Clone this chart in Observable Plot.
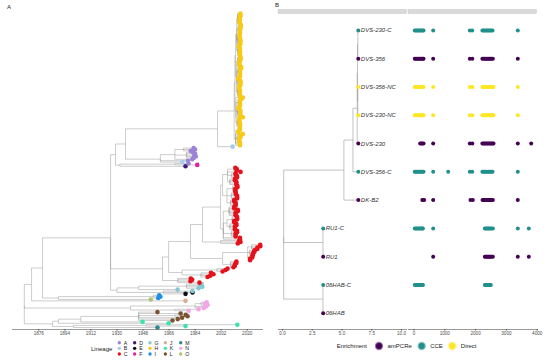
<!DOCTYPE html>
<html><head><meta charset="utf-8">
<script src="https://cdn.jsdelivr.net/npm/d3@7"></script>
<script src="https://cdn.jsdelivr.net/npm/@observablehq/plot@0.6"></script>
<style>
html,body{margin:0;padding:0;background:#fff;}
#chart{position:relative;width:550px;height:360px;overflow:hidden;font-family:"Liberation Sans",Arial,sans-serif;background:#fff;}
#chart svg{position:absolute;left:0;top:0;}
</style></head><body><div id="chart"></div>
<script>
// ---------- Panel A data ----------
const lineages = ["A","B","C","D","E","F","G","H","I","J","K","L","M","N","O"];
const lineageColors = ["#9C83D6","#A6CBEA","#E4121C","#3B1C72","#0B0B1A","#E0209C","#86C9D3","#F7CB15","#1F90E6","#D9AE8E","#3DE2B0","#7A5330","#2D8A8C","#F3A6E6","#AFC46F"];
const yearTicks = [1876,1894,1912,1930,1948,1966,1984,2002,2020];

// dated clades (tip = lineage:year, "*n" = n tips, internal node = (...):year)
const kmlClade = "((M:1958,(K:1977.4,K:2013.2):1950):1900,(K:1965.7,(K:1947.7,(L:1968.4,L:1972,L:1975,(L:1978.8,L:1977.5):1970,L:1974,L:1958):1945):1905):1889.6):1885.5";
const nClade = "((N:1979.5,N:1986.4):1970,(N:1990,N:1991.5,(N:1992.6,N:1991,N:1992):1988):1984):1939.4";
const ioClade = "(O:1953.4,(I:1958.5,I:1960,I:1959.2):1955):1889.6";
const geClade = "((E:1977.4,E:1982.2,G:1982.2):1962,(G:1971.9,(G:1986.4,G:1989,G:1987.5,G:1988.5):1978):1945):1930";
const redBasal = "(C:1987,C:1980.8,C:1982,C:1981):1972";
const redMid = "((C:1992.6,C:1994.5,C:1996.7,C:1995):1988,(C:2003,C:2005,C:2006.4):1999):1975";
const redRecent = "((C:2010.5,C:2011.5*2,C:2012.5*2):2008.5,((C:2022*2,C:2023.5*2):2021,(C:2024*2,C:2025*2):2021.5,(C:2027*2,C:2029*2):2023):2020.3):2003";
const redMain = "((C:2015*2,(C:2012*3,C:2013*2):2009,((C:2011.5*3,C:2012.5*2):2008,(C:2011*2,C:2013*3):2009.5):2006,(C:2012*3,C:2013.5*2,C:2011*2):2007.5):2003.5,(((C:2012*3,C:2011*2):2008.5,(C:2013*3,C:2012.2*2):2009,(C:2011.8*3,C:2013.2*2):2010):2006,((C:2012.5*3,C:2011.5*2):2008,(C:2013*2,C:2012*2):2009,C:2015.4,(C:2012.8*2,C:2011.8):2010.5):2006.4):2003):2001.6";
const purpleClade = "(B:1975.3,A:1979,(A:1982,(A:1983,A:1984.5,A:1983.5,A:1984,A:1982.5):1978,(A:1981,A:1984,A:1983):1976):1970):1960";
const yellowClade = "((H:2015*3,(H:2014.5*3,H:2015.5*2):2013,H:2017,(H:2014*2,H:2015*2):2013.5):2012,(((H:2015*4,H:2014.5*3):2013,H:2017,(H:2015.2*5,H:2014.2*2):2013.2,(H:2015*5,H:2016):2013.8,H:2017):2012.2,(((H:2015*5,H:2014.5*3):2013.2,(H:2015.3*4,H:2014*2):2013,(H:2015*6,H:2015.8*2):2013.6,(H:2014.6*4,H:2015.4*3):2013.4):2012.5,((H:2015*6,H:2014.4*2):2013.5,(H:2015.2*5,H:2014.8*3):2013.1,(H:2015*4,H:2015.6*3):2013.8,(H:2014.8*5,H:2015.3*3):2013.3):2012.7):2012):2011.5):2011";

const redClade = `(${redBasal},(${redMid},(${redRecent},((C:2013.5,C:2015.4,C:2014.5):2001.6,${redMain}):1989.1):1980.8):1965.7):1961.5`;
const upperClade = `((D:1977.4,(F:1985.5,A:1979.5):1970):1932,(${purpleClade},(B:2009.9,${yellowClade}):1999.5):1935.9):1929`;
const treeA = `(${kmlClade},${nClade},(J:1977.4,(${ioClade},(${geClade},${redClade},${upperClade}):1925.6):1878.6):1871):1866`;

// ---------- Panel B data ----------
const enrichLevels = ["amPCRe","CCE","Direct"];
const enrichColors = ["#440154","#21908C","#FDE725"];
const samples = ["DVS-230-C","DVS-356","DVS-356-NC","DVS-230-NC","DVS-230","DVS-356-C","DK-B2","RU1-C","RU1","06HAB-C","06HAB"];
const sampleEnrichment = ["CCE","amPCRe","Direct","Direct","amPCRe","CCE","amPCRe","CCE","amPCRe","CCE","amPCRe"];
const treeB = "((06HAB:3.42,06HAB-C:3.42):3.40,(RU1:3.42,RU1-C:3.42):3.40,(DK-B2:6.37,(DVS-356-C:6.37,(DVS-230:6.37,((DVS-230-NC:6.37,DVS-356-NC:6.37):6.33,(DVS-356:6.37,DVS-230-C:6.37):6.33):6.3):6.28):5.92):5.16):0.1";
const treeBTicks = [0,2.5,5,7.5,10];
const posTicks = [0,1000,2000,3000,4000];
const sitesDVS230C = [25,60,95,130,170,205,240,275,310,623,1812,1890,2220,2255,2290,2330,2365,2400,2440,2475,2510,2550,3370];
const sitesDVS356 = [25,60,95,135,170,205,245,280,310,623,1812,1893,2220,2260,2295,2330,2370,2405,2445,2480,2520,2560,3370];
const sitesDVS356NC = [25,60,100,135,170,210,245,280,310,623,1815,1893,2220,2255,2295,2335,2370,2410,2445,2485,2520,2555,2580,3370];
const sitesDVS230NC = [25,62,98,135,172,208,245,280,312,623,1815,1893,2220,2258,2295,2333,2372,2408,2447,2485,2520,2555,2580,3370];
const sitesDVS230 = [200,235,270,310,623,1812,1893,2220,2255,2290,2330,2370,2405,2440,2480,2515,2550,2580,3370,3805];
const sitesDVS356C = [25,60,95,130,170,205,240,275,310,623,1110,1812,1890,2220,2255,2290,2330,2365,2405,2440,2480,2515,2550,3370];
const sitesDKB2 = [270,300,330,623,1834,1910,2225,2260,2300,2335,2370,2410,2445,2480,2520,2560,3370];
const sitesRU1C = [25,60,95,130,165,200,235,265,290,623,2300,2335,2370,2405,2440,2475,2510,2560,3370,3727];
const sitesRU1 = [623,2300,2335,2370,2405,2440,2475,2515,2560,3370,3727];
const sites06HABC = [25,60,95,130,165,200,235,265,290,2300,2335,2370,2405,2440,2470,2495];
const sites06HAB = [];
const sampleSites = [sitesDVS230C,sitesDVS356,sitesDVS356NC,sitesDVS230NC,sitesDVS230,sitesDVS356C,sitesDKB2,sitesRU1C,sitesRU1,sites06HABC,sites06HAB];

// ---------- helpers ----------
function parseNewick(str) {
  const s = str.replace(/\s+/g, "");
  let i = 0;
  function token() { const j = i; while (i < s.length && !",():".includes(s[i])) i++; return s.slice(j, i); }
  function items() {
    let node;
    if (s[i] === "(") {
      i++;
      const children = [];
      for (;;) {
        children.push(...items());
        if (s[i] === ",") { i++; continue; }
        if (s[i] === ")") { i++; break; }
        throw new Error("bad newick at " + i);
      }
      node = {children, label: token()};
    } else node = {label: token()};
    let t = 0, rep = 1;
    if (s[i] === ":") { i++; const [v, r] = token().split("*"); t = +v; rep = r ? +r : 1; }
    node.t = t;
    const out = [node];
    for (let k = 1; k < rep; k++) out.push({...node});
    return out;
  }
  return items()[0];
}
function layoutTree(root) {
  let k = 0; const tips = [], edges = [];
  (function walk(n) {
    if (!n.children) { n.y = ++k; tips.push(n); }
    else { n.children.forEach(walk); n.y = d3.mean(n.children, c => c.y); }
  })(root);
  (function link(n) {
    if (!n.children) return;
    for (const c of n.children) {
      edges.push({x1: n.t, x2: n.t, y1: n.y, y2: c.y});
      edges.push({x1: n.t, x2: c.t, y1: c.y, y2: c.y});
      link(c);
    }
  })(root);
  return {tips, edges, n: k};
}

const FONT = '"Liberation Sans", Arial, sans-serif';
const chart = document.getElementById("chart");

// ---------- Panel A ----------
const A = layoutTree(parseNewick(treeA));
chart.append(Plot.plot({
  width: 550, height: 345, marginLeft: 12, marginRight: 288, marginTop: 0, marginBottom: 16,
  x: {domain: [1876, 2020], range: [38.3, 246.7]},
  y: {domain: [1, A.n], range: [327, 13], axis: null},
  color: {domain: lineages, range: lineageColors},
  style: {background: "transparent", fontFamily: FONT, fontSize: "4.6px", color: "#4d4d4d"},
  marks: [
    Plot.link(A.edges, {x1: "x1", y1: "y1", x2: "x2", y2: "y2", stroke: "#9a9a9a", strokeWidth: 0.5}),
    Plot.dot(A.tips, {x: "t", y: "y", r: 2.3, fill: "label"}),
    Plot.frame({anchor: "bottom", stroke: "#555", strokeWidth: 0.6}),
    Plot.axisX({ticks: yearTicks, tickSize: 1.5, tickPadding: 1, tickFormat: d3.format("d"), label: null})
  ]
}));

// ---------- Panel B tree ----------
const B = layoutTree(parseNewick(treeB));
const enrichOf = Object.fromEntries(samples.map((s, i) => [s, sampleEnrichment[i]]));
const rowOf = Object.fromEntries(B.tips.map(t => [t.label, t.y]));
B.tips.forEach(t => t.enrichment = enrichOf[t.label]);
chart.append(Plot.plot({
  width: 550, height: 345, marginLeft: 278, marginRight: 144, marginTop: 0, marginBottom: 16,
  x: {domain: [0, 10], range: [282, 401]},
  y: {domain: [1, B.n], range: [312.7, 30], axis: null},
  color: {domain: enrichLevels, range: enrichColors},
  style: {background: "transparent", fontFamily: FONT, fontSize: "4.6px", color: "#4d4d4d"},
  marks: [
    Plot.link(B.edges, {x1: "x1", y1: "y1", x2: "x2", y2: "y2", stroke: "#9a9a9a", strokeWidth: 0.6}),
    Plot.dot(B.tips, {x: "t", y: "y", r: 2, fill: "enrichment"}),
    Plot.text(B.tips, {x: "t", y: "y", text: "label", textAnchor: "start", dx: 2.5, fontSize: 6, fontStyle: "italic", fill: "#333"}),
    Plot.frame({anchor: "bottom", stroke: "#555", strokeWidth: 0.6}),
    Plot.axisX({ticks: treeBTicks, tickSize: 1.5, tickPadding: 1, tickFormat: d3.format(".1f"), label: null})
  ]
}));

// ---------- Panel B dot plot ----------
const siteRows = samples.flatMap((s, i) => sampleSites[i].map(p => ({sample: s, pos: p, row: rowOf[s], enrichment: sampleEnrichment[i]})));
chart.append(Plot.plot({
  width: 550, height: 345, marginLeft: 408, marginRight: 13, marginTop: 0, marginBottom: 16,
  x: {domain: [0, 4000], range: [413.5, 536.7]},
  y: {domain: [1, B.n], range: [312.7, 30], axis: null},
  color: {domain: enrichLevels, range: enrichColors},
  style: {background: "transparent", fontFamily: FONT, fontSize: "4.6px", color: "#4d4d4d"},
  marks: [
    Plot.dot(siteRows, {x: "pos", y: "row", r: 2, fill: "enrichment"}),
    Plot.frame({anchor: "bottom", stroke: "#555", strokeWidth: 0.6}),
    Plot.axisX({ticks: posTicks, tickSize: 1.5, tickPadding: 1, tickFormat: d3.format("d"), label: null})
  ]
}));

// ---------- annotations & legends ----------
const svg = d3.select(chart).append("svg").attr("width", 550).attr("height", 360)
  .style("font-family", FONT);
svg.append("text").attr("x", 7).attr("y", 9).attr("font-size", 6).attr("fill", "#222").text("A");
svg.append("text").attr("x", 275).attr("y", 6.5).attr("font-size", 6).attr("fill", "#222").text("B");
// facet strips
[[278, 407], [408, 537]].forEach(([a, b]) => {
  svg.append("rect").attr("x", a).attr("y", 9.5).attr("width", b - a - 0.6).attr("height", 4)
    .attr("fill", "#d9d9d9").attr("stroke", "#bdbdbd").attr("stroke-width", 0.4);
});
// lineage legend
svg.append("text").attr("x", 91).attr("y", 349).attr("dy", "0.35em").attr("font-size", 6).attr("fill", "#222").text("Lineage");
lineages.forEach((l, i) => {
  const cx = 119.3 + Math.floor(i / 3) * 15.35, cy = 342.7 + (i % 3) * 5.65;
  svg.append("circle").attr("cx", cx).attr("cy", cy).attr("r", 1.7).attr("fill", lineageColors[i]);
  svg.append("text").attr("x", cx + 4.5).attr("y", cy).attr("dy", "0.35em").attr("font-size", 5.2).attr("fill", "#222").text(l);
});
// enrichment legend
svg.append("text").attr("x", 336.7).attr("y", 346).attr("dy", "0.35em").attr("font-size", 6).attr("fill", "#222").text("Enrichment");
const keyX = [379, 421.7, 452.3];
enrichLevels.forEach((e, i) => {
  svg.append("circle").attr("cx", keyX[i]).attr("cy", 346).attr("r", 4.2).attr("fill", enrichColors[i]).attr("fill-opacity", 0.55);
  svg.append("circle").attr("cx", keyX[i]).attr("cy", 346).attr("r", 3).attr("fill", enrichColors[i]);
  svg.append("text").attr("x", keyX[i] + 8.5).attr("y", 346).attr("dy", "0.35em").attr("font-size", 6).attr("fill", "#222").text(e);
});
</script></body></html>
